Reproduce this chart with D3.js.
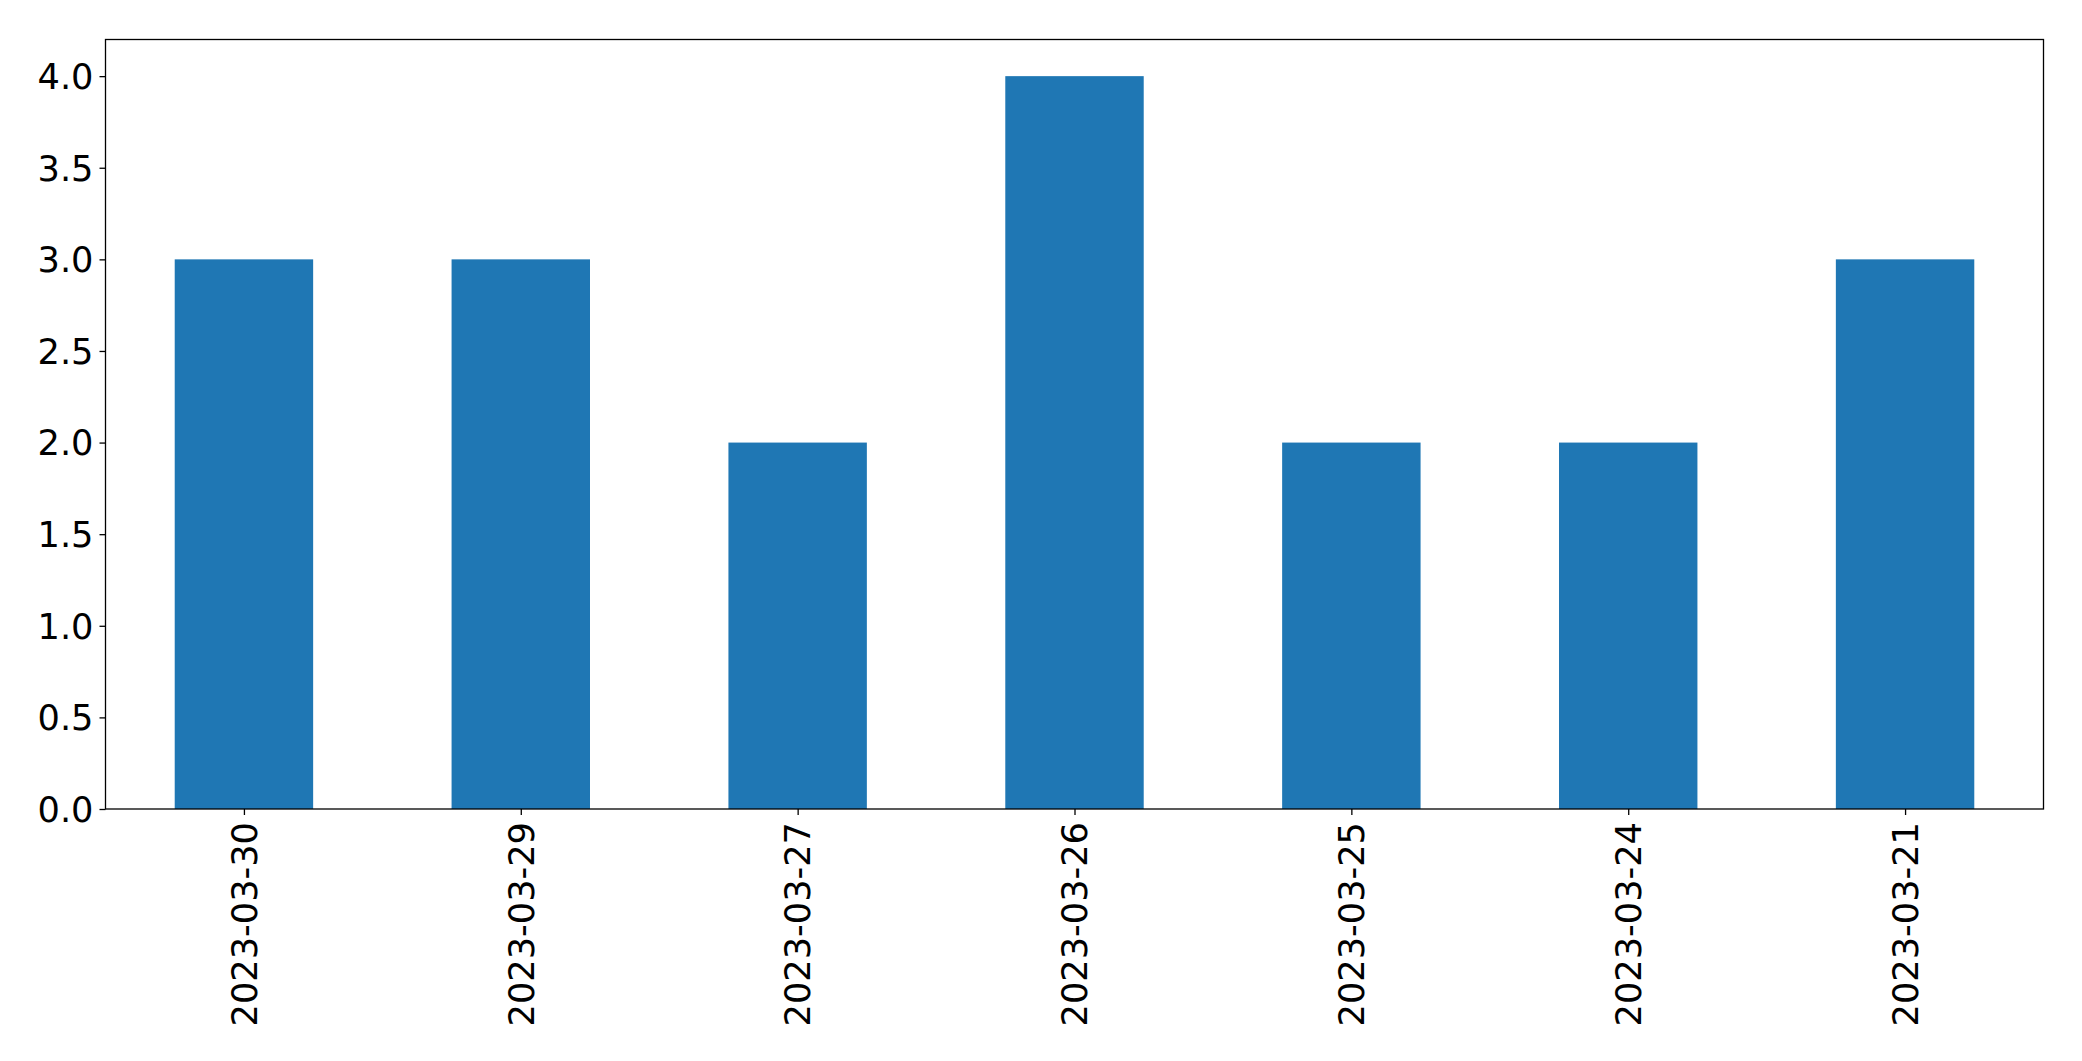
<!DOCTYPE html>
<html><head><meta charset="utf-8">
<script src="https://cdn.jsdelivr.net/npm/d3@7"></script>
<style>body{margin:0;background:#fff}svg{display:block}text{font-family:"DejaVu Sans",sans-serif}</style>
</head><body>
<svg id="c" width="2082" height="1061"></svg>
<script>
const categories = ["2023-03-30","2023-03-29","2023-03-27","2023-03-26","2023-03-25","2023-03-24","2023-03-21"];
const values = [3,3,2,4,2,2,3];
const yTicks = [0,0.5,1,1.5,2,2.5,3,3.5,4];

const svg = d3.select("#c");
const L = 105.5, R = 2043.5, T = 39.5, B = 809;
const x = d3.scaleLinear().domain([-0.5, categories.length - 0.5]).range([L, R]);
const y = d3.scaleLinear().domain([0, 4.2]).range([B, T]);
const bw = 0.5;
const FS = "35.2px";

svg.append("g").selectAll("rect").data(values).join("rect")
  .attr("x", (d,i) => x(i - bw/2))
  .attr("width", (d,i) => x(i + bw/2) - x(i - bw/2))
  .attr("y", d => y(d))
  .attr("height", d => y(0) - y(d))
  .attr("fill", "#1f77b4");

const yAxis = d3.axisLeft(y).tickValues(yTicks).tickFormat(d3.format(".1f")).tickSize(6).tickPadding(6);
const gy = svg.append("g").attr("transform", `translate(${L},0)`).call(yAxis);
gy.select(".domain").remove();
gy.selectAll("line").attr("stroke","#000").attr("stroke-width",1.3);
gy.selectAll("text").attr("font-size", FS).attr("fill","#000").attr("dy","0.35em");

const xAxis = d3.axisBottom(x).tickValues(d3.range(categories.length)).tickFormat(i => categories[i]).tickSize(6).tickPadding(6);
const gx = svg.append("g").attr("transform", `translate(0,${B})`).call(xAxis);
gx.select(".domain").remove();
gx.selectAll("line").attr("stroke","#000").attr("stroke-width",1.3);
gx.selectAll("text").attr("font-size",FS).attr("fill","#000")
  .attr("transform","rotate(-90)").attr("text-anchor","end")
  .attr("x", -13).attr("y", 0).attr("dy","0.35em");

svg.append("rect").attr("x",L).attr("y",T).attr("width",R-L).attr("height",B-T)
  .attr("fill","none").attr("stroke","#000").attr("stroke-width",1.3);
</script>
</body></html>
